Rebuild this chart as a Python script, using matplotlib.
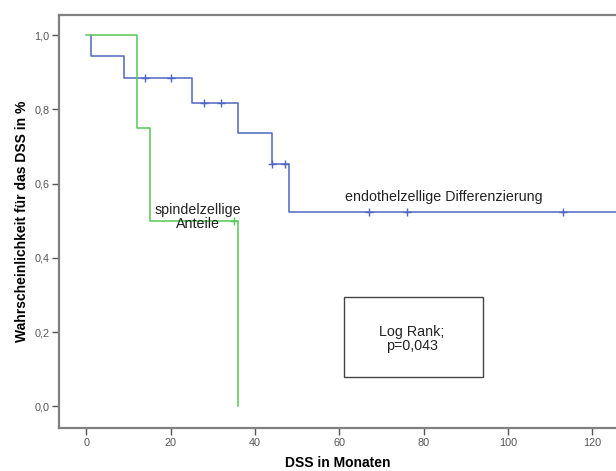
import numpy as np
import matplotlib.pyplot as plt

plt.rcParams['font.family'] = ['Liberation Sans', 'DejaVu Sans']

# Kaplan-Meier steps: (time of drop, survival after drop)
endo_times = [0, 1, 9, 25, 36, 44, 48]
endo_surv = [1.0, 0.944, 0.884, 0.817, 0.736, 0.654, 0.523]
endo_end = 130
endo_cens_t = [14, 20, 28, 32, 44, 47, 67, 76, 113]

spin_times = [0, 12, 15, 36]
spin_surv = [1.0, 0.75, 0.50, 0.0]
spin_cens_t = [35]

blue = '#5066c0'
green = '#55c955'


def step_xy(times, surv, end=None):
    xs, ys = [times[0]], [surv[0]]
    for t, s in zip(times[1:], surv[1:]):
        xs += [t, t]
        ys += [ys[-1], s]
    if end is not None:
        xs.append(end)
        ys.append(ys[-1])
    return xs, ys


def surv_at(times, surv, t):
    idx = np.searchsorted(times, t, side='right') - 1
    return surv[idx]


fig = plt.figure(figsize=(6.16, 4.71), dpi=100)
ax = fig.add_axes([0.0958, 0.0913, 0.9042, 0.8769])

# blue curve starts at t=1 on the 1.0 level
bx, by = step_xy(endo_times[1:], endo_surv[1:], endo_end)
bx = [endo_times[1]] + bx
by = [endo_surv[0]] + by
ax.plot(bx, by, color=blue, lw=1.1)
ax.plot(endo_cens_t, [surv_at(endo_times, endo_surv, t) for t in endo_cens_t],
        '+', color=blue, ms=6, mew=1.0)

gx, gy = step_xy(spin_times, spin_surv)
ax.plot(gx, gy, color=green, lw=1.1)
ax.plot(spin_cens_t, [surv_at(spin_times, spin_surv, t) for t in spin_cens_t],
        '+', color=green, ms=6, mew=1.0)

ax.text(26.5, 0.51, 'spindelzellige\nAnteile', ha='center', va='center',
        fontsize=10.3, color='#222222', linespacing=1.05)
ax.text(84.7, 0.565, 'endothelzellige Differenzierung', ha='center',
        va='center', fontsize=10.3, color='#222222')

ax.add_patch(plt.Rectangle((61.1, 0.080), 33.0, 0.216, fill=False,
                           ec='#444444', lw=1.0))
ax.text(77.2, 0.182, 'Log Rank;\np=0,043', ha='center', va='center',
        fontsize=10.3, color='#222222', linespacing=1.0)

ax.set_xlim(-6.5, 125.6)
ax.set_ylim(-0.058, 1.054)
ax.set_xticks(np.arange(0, 121, 20))
ax.set_yticks(np.arange(0, 1.01, 0.2))
ax.set_yticklabels([f'{v:.1f}'.replace('.', ',') for v in np.arange(0, 1.01, 0.2)])

for side in ['left', 'bottom', 'top']:
    ax.spines[side].set_color('#808080')
    ax.spines[side].set_linewidth(1.6)
ax.spines['right'].set_visible(False)
ax.tick_params(colors='#555555', labelsize=7.8, length=5, width=1.0,
               direction='out', pad=2)

ax.set_xlabel('DSS in Monaten', fontsize=10, fontweight='bold', labelpad=6)
ax.set_ylabel('Wahrscheinlichkeit für das DSS in %', fontsize=10,
              fontweight='bold', labelpad=4)

fig.savefig('out.png', dpi=100)
